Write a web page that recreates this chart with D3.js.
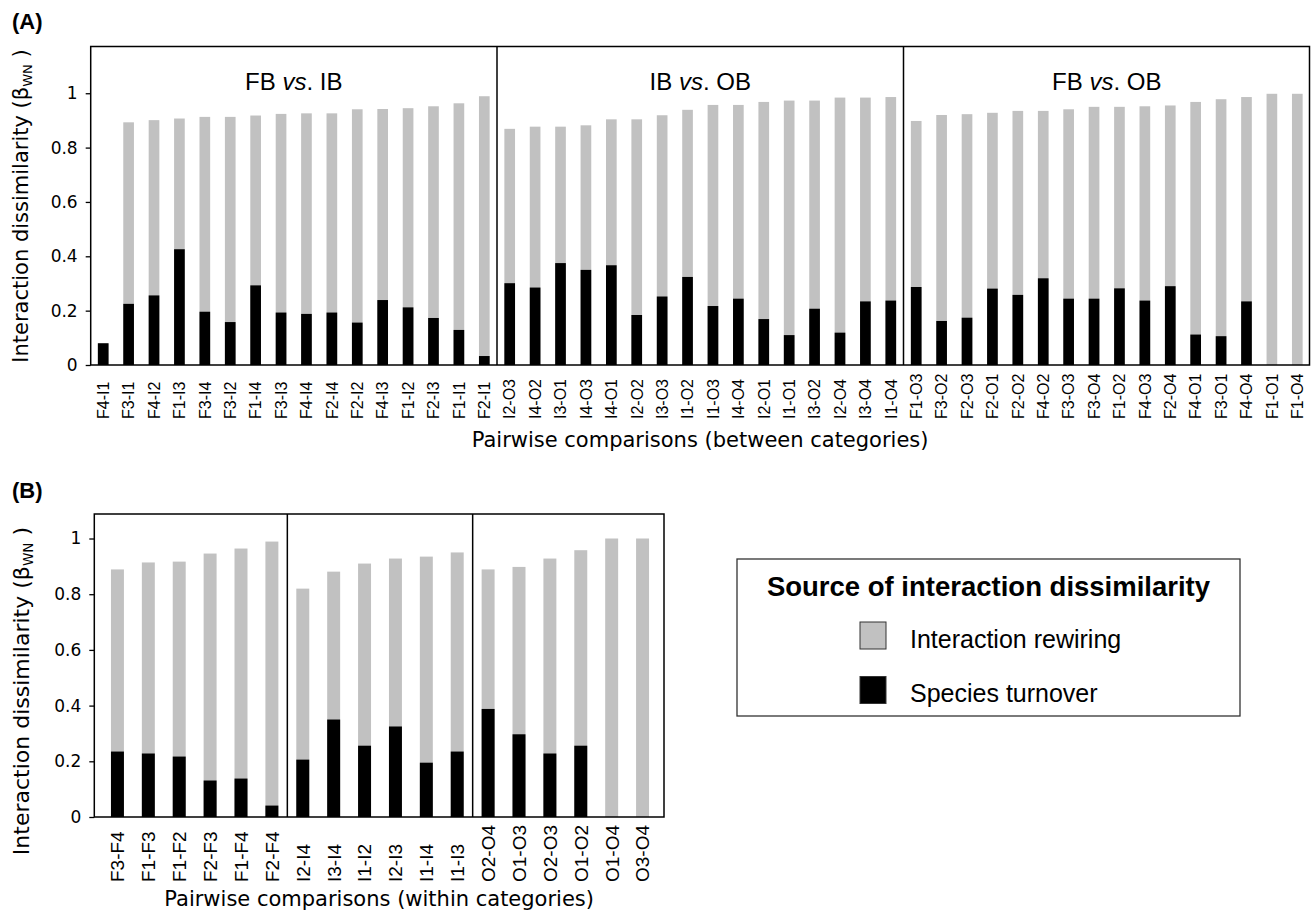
<!DOCTYPE html>
<html>
<head>
<meta charset="utf-8">
<script src="https://cdn.jsdelivr.net/npm/d3@7"></script>
<style>
  body { margin: 0; background: #fff; }
  svg text { fill: #000; }
</style>
</head>
<body>
<div id="svg_area"></div>
<script>
// ---- data ----
var catsBetween = [
  "F4-I1","F3-I1","F4-I2","F1-I3","F3-I4","F3-I2","F1-I4","F3-I3","F4-I4","F2-I4","F2-I2","F4-I3","F1-I2","F2-I3","F1-I1","F2-I1",
  "I2-O3","I4-O2","I3-O1","I4-O3","I4-O1","I2-O2","I3-O3","I1-O2","I1-O3","I4-O4","I2-O1","I1-O1","I3-O2","I2-O4","I3-O4","I1-O4",
  "F1-O3","F3-O2","F2-O3","F2-O1","F2-O2","F4-O2","F3-O3","F3-O4","F1-O2","F4-O3","F2-O4","F4-O1","F3-O1","F4-O4","F1-O1","F1-O4"
];
var totalBetween = [
  0.08,0.893,0.901,0.907,0.913,0.913,0.918,0.924,0.926,0.926,0.941,0.942,0.945,0.952,0.963,0.989,
  0.869,0.877,0.877,0.882,0.904,0.904,0.919,0.939,0.957,0.957,0.968,0.973,0.973,0.984,0.984,0.986,
  0.898,0.920,0.923,0.928,0.935,0.935,0.941,0.950,0.950,0.952,0.955,0.968,0.978,0.986,0.998,0.998
];
var turnoverBetween = [
  0.08,0.225,0.256,0.426,0.196,0.158,0.293,0.193,0.188,0.193,0.156,0.239,0.212,0.173,0.129,0.033,
  0.301,0.285,0.375,0.350,0.367,0.184,0.252,0.324,0.217,0.244,0.169,0.110,0.207,0.119,0.234,0.237,
  0.287,0.162,0.174,0.281,0.258,0.319,0.244,0.244,0.282,0.237,0.290,0.112,0.106,0.234,0,0
];
var groupsBetween = [["FB","IB"],["IB","OB"],["FB","OB"]];

var catsWithin = [
  "F3-F4","F1-F3","F1-F2","F2-F3","F1-F4","F2-F4",
  "I2-I4","I3-I4","I1-I2","I2-I3","I1-I4","I1-I3",
  "O2-O4","O1-O3","O2-O3","O1-O2","O1-O4","O3-O4"
];
var totalWithin = [
  0.889,0.914,0.917,0.946,0.964,0.989,
  0.820,0.881,0.910,0.928,0.935,0.950,
  0.889,0.898,0.928,0.958,1.0,1.0
];
var turnoverWithin = [
  0.235,0.228,0.217,0.131,0.138,0.041,
  0.206,0.350,0.256,0.325,0.195,0.235,
  0.388,0.297,0.228,0.256,0,0
];

var yTicks = [0, 0.2, 0.4, 0.6, 0.8, 1];
var legendTitle = "Source of interaction dissimilarity";
var legendItems = ["Interaction rewiring", "Species turnover"];

var GREY = "#c1c1c1";
var numFont = "'DejaVu Sans', Verdana, sans-serif";
var arial = "'Liberation Sans', Arial, sans-serif";

d3.select('#svg_area').append("svg").attr("width", 1314).attr("height", 920);
var svg = d3.select("svg");

function drawPanel(p) {
  var g = svg.append("g");

  var x = d3.scaleBand().domain(p.cats).range([p.barL, p.barR])
      .paddingInner(0.58).paddingOuter(0.29);
  var y = d3.scaleLinear().domain([0, p.yMax]).range([p.bottom, p.top]);

  // bars: grey = total dissimilarity, black = turnover part
  g.selectAll(".tot").data(p.cats).enter().append("rect")
    .attr("x", function(d) { return x(d); })
    .attr("width", x.bandwidth())
    .attr("y", function(d, i) { return y(p.total[i]); })
    .attr("height", function(d, i) { return y(0) - y(p.total[i]); })
    .attr("fill", GREY);
  g.selectAll(".turn").data(p.cats).enter().append("rect")
    .attr("x", function(d) { return x(d); })
    .attr("width", x.bandwidth())
    .attr("y", function(d, i) { return y(p.turn[i]); })
    .attr("height", function(d, i) { return y(0) - y(p.turn[i]); })
    .attr("fill", "#000");

  // frame
  g.append("rect")
    .attr("x", p.boxL).attr("y", p.top)
    .attr("width", p.boxR - p.boxL).attr("height", p.bottom - p.top)
    .attr("fill", "none").attr("stroke", "#000").attr("stroke-width", 1.5);

  // dividers between the three groups
  var per = p.cats.length / 3;
  [1, 2].forEach(function(k) {
    var xd = x(p.cats[k * per]) - (x.step() - x.bandwidth()) / 2;
    g.append("line")
      .attr("x1", xd).attr("x2", xd).attr("y1", p.top).attr("y2", p.bottom)
      .attr("stroke", "#000").attr("stroke-width", 1.5);
  });

  // y axis
  var ax = g.append("g")
    .attr("transform", "translate(" + p.boxL + ",0)")
    .call(d3.axisLeft(y).tickValues(yTicks).tickSize(5).tickPadding(8)
          .tickFormat(function(d) { return d; }));
  ax.select(".domain").remove();
  ax.selectAll("line").attr("stroke", "#000").attr("stroke-width", 1.3);
  ax.selectAll("text").attr("font-family", numFont).attr("font-size", 17).attr("fill", "#000");

  // category labels (rotated, bottom aligned)
  g.selectAll(".lab").data(p.cats).enter().append("text")
    .attr("transform", function(d) {
      return "translate(" + (x(d) + x.bandwidth() / 2) + "," + p.labBase + ") rotate(-90)";
    })
    .attr("dy", "0.36em")
    .attr("text-anchor", "start")
    .attr("font-family", arial)
    .attr("font-size", p.labSize)
    .text(function(d) { return d; });

  // group titles
  if (p.groups) {
    p.groups.forEach(function(gr, k) {
      var a = x(p.cats[k * per]) - (x.step() - x.bandwidth()) / 2;
      var b = a + per * x.step();
      var t = g.append("text")
        .attr("x", (a + b) / 2).attr("y", p.groupBase)
        .attr("text-anchor", "middle")
        .attr("font-family", arial).attr("font-size", 24);
      t.append("tspan").text(gr[0] + " ");
      t.append("tspan").attr("font-style", "italic").text("vs");
      t.append("tspan").text(". " + gr[1]);
    });
  }

  // axis titles
  var yt = g.append("text")
    .attr("transform", "translate(" + p.yTitleX + "," + p.yTitleY + ") rotate(-90)")
    .attr("text-anchor", "middle")
    .attr("font-family", numFont).attr("font-size", p.yTitleSize);
  yt.append("tspan").text("Interaction dissimilarity (\u03b2");
  yt.append("tspan").attr("font-size", p.yTitleSize * 0.62).attr("dy", "0.3em").text("WN");
  yt.append("tspan").attr("dy", "-0.2em").text(" )");

  g.append("text")
    .attr("x", (p.boxL + p.boxR) / 2).attr("y", p.xTitleBase)
    .attr("text-anchor", "middle")
    .attr("font-family", numFont).attr("font-size", 21)
    .text(p.xTitle);

  g.append("text")
    .attr("x", 12).attr("y", p.tagBase)
    .attr("font-family", arial).attr("font-weight", "bold").attr("font-size", 22)
    .text(p.tag);
}

drawPanel({
  cats: catsBetween, total: totalBetween, turn: turnoverBetween, groups: groupsBetween,
  barL: 90.5, barR: 1310, boxL: 90.7, boxR: 1309.5, top: 46.5, bottom: 365, yMax: 1.172,
  labBase: 419, labSize: 16, groupBase: 90,
  yTitleX: 28, yTitleY: 206, yTitleSize: 21,
  xTitle: "Pairwise comparisons (between categories)", xTitleBase: 447,
  tag: "(A)", tagBase: 29
});

drawPanel({
  cats: catsWithin, total: totalWithin, turn: turnoverWithin, groups: null,
  barL: 102, barR: 658, boxL: 94.3, boxR: 664, top: 514, bottom: 817, yMax: 1.088,
  labBase: 882, labSize: 19,
  yTitleX: 29, yTitleY: 691, yTitleSize: 22,
  xTitle: "Pairwise comparisons (within categories)", xTitleBase: 906,
  tag: "(B)", tagBase: 498
});

// legend
var lg = svg.append("g");
lg.append("rect")
  .attr("x", 737).attr("y", 559).attr("width", 503).attr("height", 157)
  .attr("fill", "none").attr("stroke", "#333").attr("stroke-width", 1.3);
lg.append("text")
  .attr("x", 988.5).attr("y", 596).attr("text-anchor", "middle")
  .attr("font-family", arial).attr("font-weight", "bold").attr("font-size", 27.5)
  .text(legendTitle);
var legendFill = [GREY, "#000"];
legendItems.forEach(function(name, i) {
  lg.append("rect")
    .attr("x", 860).attr("y", 622 + i * 54.5).attr("width", 26).attr("height", 27)
    .attr("fill", legendFill[i]).attr("stroke", "#333").attr("stroke-width", 1);
  lg.append("text")
    .attr("x", 910).attr("y", 648 + i * 53.5)
    .attr("font-family", arial).attr("font-size", 25)
    .text(name);
});
</script>
</body>
</html>
